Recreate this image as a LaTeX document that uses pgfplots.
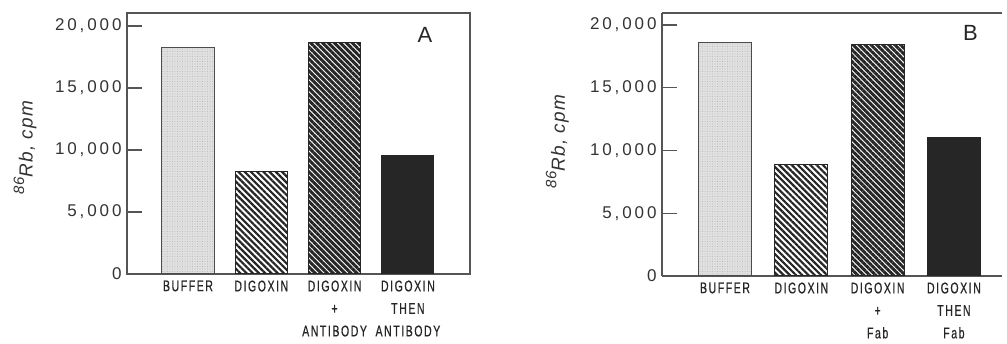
\documentclass[border=0pt]{standalone}
\usepackage{pgfplots}
\pgfplotsset{compat=1.18}
\usepackage{fontspec}
\setmainfont{Liberation Sans}
\usetikzlibrary{patterns.meta}
\newfontfamily\tickfont[LetterSpace=17]{Liberation Sans}
\newfontfamily\catfont[FakeStretch=0.68,LetterSpace=10,FakeBold=0.6]{Liberation Sans}
\newfontfamily\labfont[LetterSpace=6]{Liberation Sans}
\definecolor{frame}{HTML}{555555}
\definecolor{solidbar}{HTML}{262626}
\pgfplotsset{
  panel/.style={
    scale only axis,
    axis line style={frame, line width=1.1pt},
    xtick={0,1,2,3},
    x tick style={draw=none},
    ytick={0,5000,10000,15000,20000},
    scaled y ticks=false,
    ytick pos=left,
    tick align=inside,
    major tick length=15pt,
    y tick style={frame, line width=1.1pt},
    /pgf/number format/1000 sep={,},
    /pgf/number format/assume math mode=true,
    yticklabel style={font=\tickfont\fontsize{17}{17}\selectfont, text=black!80, xshift=-2pt},
    xticklabel style={font=\catfont\fontsize{15.5}{22.5}\selectfont, text=black!85, align=center, anchor=north, yshift=-3pt},
    ymin=0,
    clip=false,
  },
  buf/.style={ybar, bar shift=0pt, draw=black!70, line width=1pt, fill=black!12,
     postaction={pattern={Dots[distance=2.5pt, radius=0.45pt]}, pattern color=black!35}},
  dig/.style={ybar, bar shift=0pt, draw=black!85, line width=1pt, fill=white,
     postaction={pattern={Lines[angle=-45, distance=4.4pt, line width=2.2pt]}, pattern color=black!85}},
  dab/.style={ybar, bar shift=0pt, draw=black!85, line width=1pt, fill=white,
     postaction={pattern={Lines[angle=-45, distance=4.2pt, line width=3.0pt]}, pattern color=black!85}},
  thn/.style={ybar, bar shift=0pt, draw=solidbar, line width=1pt, fill=solidbar},
}
\begin{document}
\begin{tikzpicture}[x=1pt,y=1pt]
\useasboundingbox (0,0) rectangle (1007,344);
\begin{axis}[panel,
  at={(127pt,70pt)}, anchor=south west,
  width=343pt, height=261pt,
  xmin=-0.832, xmax=3.847, ymax=21050,
  bar width=0.71,
  xticklabels={BUFFER, DIGOXIN, {DIGOXIN\\+\\ANTIBODY}, {DIGOXIN\\THEN\\ANTIBODY}},
  ylabel={\labfont\itshape\fontsize{19}{19}\selectfont\raisebox{0.45em}{\fontsize{15}{15}\selectfont 86}Rb, cpm},
  ylabel style={at={(rel axis cs:-0.297,0.483)}, anchor=center, text=black!80},
]
\addplot[buf] coordinates {(0,18300)};
\addplot[dig] coordinates {(1,8300)};
\addplot[dab] coordinates {(2,18700)};
\addplot[thn] coordinates {(3,9550)};
\node[font=\fontsize{22}{22}\selectfont, text=black!85] at (rel axis cs:0.869,0.916) {A};
\end{axis}
\begin{axis}[panel,
  axis y line*=left,
  at={(662pt,68pt)}, anchor=south west,
  width=340pt, height=263pt,
  xmin=-0.826, xmax=3.63, ymax=20960,
  bar width=0.695,
  xticklabels={BUFFER, DIGOXIN, {DIGOXIN\\+\\Fab}, {DIGOXIN\\THEN\\Fab}},
  ylabel={\labfont\itshape\fontsize{19}{19}\selectfont\raisebox{0.45em}{\fontsize{15}{15}\selectfont 86}Rb, cpm},
  ylabel style={at={(rel axis cs:-0.308,0.51)}, anchor=center, text=black!80},
]
\addplot[buf] coordinates {(0,18600)};
\addplot[dig] coordinates {(1,8850)};
\addplot[dab] coordinates {(2,18450)};
\addplot[thn] coordinates {(3,11050)};
\node[font=\fontsize{22}{22}\selectfont, text=black!85] at (rel axis cs:0.907,0.924) {B};
\end{axis}
\end{tikzpicture}
\end{document}
